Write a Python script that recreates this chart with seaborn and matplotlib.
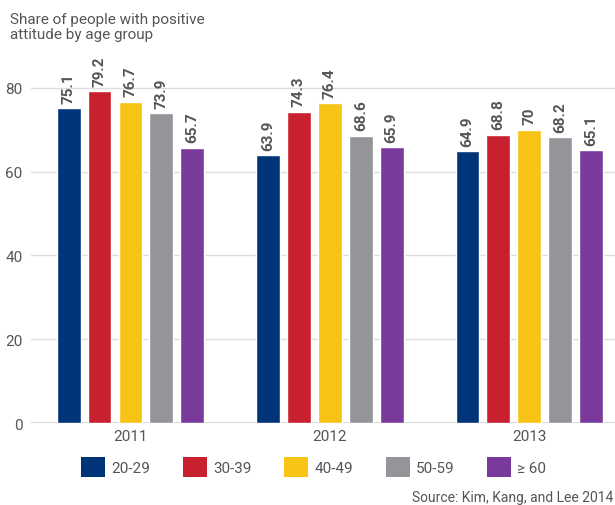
import matplotlib
matplotlib.use("Agg")
import matplotlib.pyplot as plt
import seaborn as sns
import pandas as pd
from matplotlib.patches import Patch

years = ["2011", "2012", "2013"]
age_groups = ["20-29", "30-39", "40-49", "50-59", "\u2265 60"]
v_20_29 = [75.1, 63.9, 64.9]
v_30_39 = [79.2, 74.3, 68.8]
v_40_49 = [76.7, 76.4, 70.0]
v_50_59 = [73.9, 68.6, 68.2]
v_60p = [65.7, 65.9, 65.1]
labels_text = [["75.1", "63.9", "64.9"], ["79.2", "74.3", "68.8"], ["76.7", "76.4", "70"],
               ["73.9", "68.6", "68.2"], ["65.7", "65.9", "65.1"]]
colors = ["#003478", "#c8202f", "#f7c314", "#939598", "#7a3a9c"]

series = [v_20_29, v_30_39, v_40_49, v_50_59, v_60p]
rows = []
for g, vals in zip(age_groups, series):
    for y, v in zip(years, vals):
        rows.append({"year": y, "age": g, "value": v})
df = pd.DataFrame(rows)

sns.set_theme(style="white")
plt.rcParams['font.family'] = ['Roboto', 'DejaVu Sans']
txt = "#555555"

fig = plt.figure(figsize=(6.15, 5.06), dpi=100)
ax = fig.add_axes([0.050, 0.162, 0.950, 0.745])
sns.barplot(data=df, x="year", y="value", hue="age", hue_order=age_groups, order=years,
            palette=colors, width=0.775, gap=0.23, ax=ax, legend=False, saturation=1)

for i, cont in enumerate(ax.containers):
    for j, bar in enumerate(cont):
        ax.text(bar.get_x() + bar.get_width() / 2, bar.get_height() + 1.3, labels_text[i][j],
                rotation=90, ha="center", va="bottom", color=txt, fontsize=11, fontweight="bold")

ax.set_ylim(0, 90)
ax.set_xlim(-0.5, 2.43)
ax.set_yticks([0, 20, 40, 60, 80])
ax.yaxis.grid(True, color="#dddddd", linewidth=1)
ax.axhline(0, color="#cccccc", linewidth=1.2, zorder=0.5)
ax.set_axisbelow(True)
for s in ax.spines.values():
    s.set_visible(False)
ax.set_xlabel("")
ax.set_ylabel("")
ax.tick_params(axis="both", length=0, labelsize=11, colors=txt, pad=4)
ax.tick_params(axis="y", pad=6)

fig.text(0.016, 0.975, "Share of people with positive\nattitude by age group", ha="left", va="top",
         fontsize=11, color=txt, linespacing=1.1)

handles = [Patch(facecolor=c, edgecolor="none", label=l) for c, l in zip(colors, age_groups)]
fig.legend(handles=handles, loc="center", bbox_to_anchor=(0.51, 0.075), ncol=5, frameon=False,
           fontsize=11, handlelength=1.57, handleheight=1.57, handletextpad=0.4, columnspacing=2.15,
           labelcolor=txt)

fig.text(0.997, 0.001, "Source: Kim, Kang, and Lee 2014", ha="right", va="bottom", fontsize=10, color=txt)

fig.savefig("out.png", dpi=100)
